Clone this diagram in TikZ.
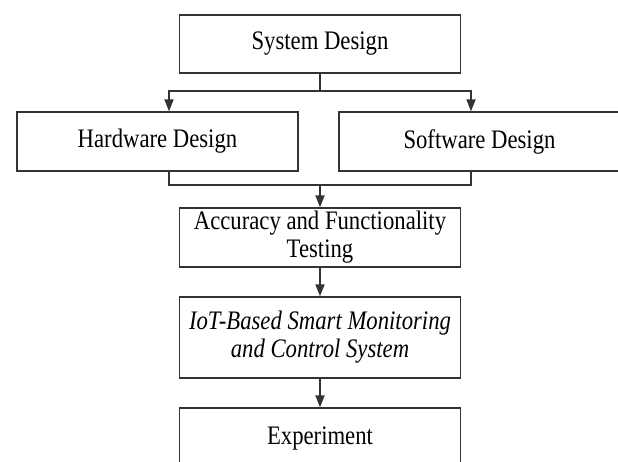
\documentclass[tikz,border=0pt]{standalone}
\usepackage{fontspec}
\setmainfont[FakeStretch=0.85]{Liberation Serif}
\usetikzlibrary{arrows.meta}

\begin{document}
\begin{tikzpicture}[x=0.025cm,y=-0.025cm]
\fill[white] (0,0) rectangle (618,461);
\clip (0,0) rectangle (618,461);

\begin{scope}[every node/.style={rectangle,draw=black!80,line width=1pt,minimum width=7.02cm,
              inner sep=2pt,align=center,font=\fontsize{19}{20}\selectfont}]
    \node[minimum height=1.45cm]  (sys) at (320,44)    {System Design};
    \node[minimum height=1.475cm] (hw)  at (157.5,141.5) {Hardware Design};
    \node[minimum height=1.475cm] (sw)  at (479.5,141.5) {Software Design};
    \node[minimum height=1.475cm] (acc) at (320,237.5) {Accuracy and Functionality\\Testing};
    \node[minimum height=2.025cm] (iot) at (320,337.5) {\itshape IoT-Based Smart Monitoring\\\itshape and Control System};
    \node[minimum height=1.5cm]   (exp) at (320,438)   {Experiment};
\end{scope}

\coordinate (split) at (320,91);
\coordinate (merge) at (320,185);
\coordinate (lft) at (169,0);
\coordinate (rgt) at (471,0);

\begin{scope}[draw=black!80,line width=1pt,
              every edge/.style={draw=black!80,line width=1pt,-{Triangle[width=6.5pt,length=8.5pt]}}]
    \draw (sys) -- (split);
    \draw[-{Triangle[width=6.5pt,length=8.5pt]}] (split) -| (lft |- hw.north);
    \draw[-{Triangle[width=6.5pt,length=8.5pt]}] (split) -| (rgt |- sw.north);
    \draw (lft |- hw.south) |- (merge) -| (rgt |- sw.south);
    \path (merge) edge (acc);
    \path (acc) edge (iot);
    \path (iot) edge (exp);
\end{scope}
\end{tikzpicture}
\end{document}
